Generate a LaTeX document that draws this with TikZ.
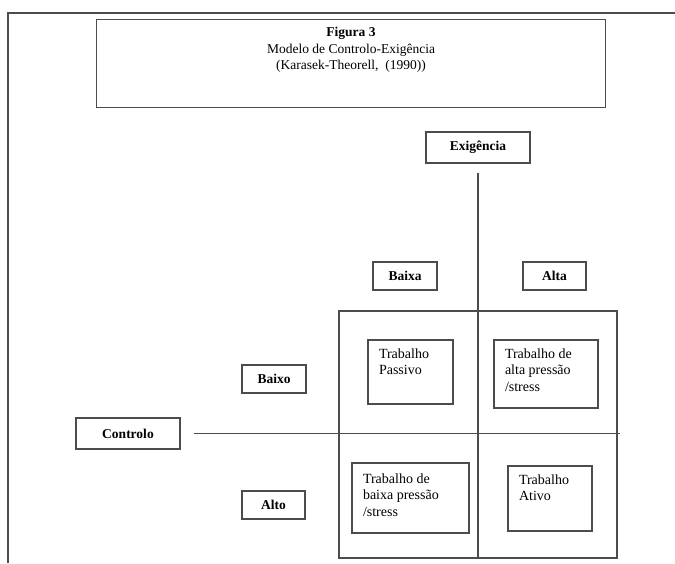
\documentclass[tikz,border=0pt]{standalone}
\usepackage{fontspec}
\setmainfont{Liberation Serif}
\usetikzlibrary{positioning}

\begin{document}
\begin{tikzpicture}[x=1pt, y=-1pt, line width=1.5pt,
    every node/.style={text=black},
    lbl/.style={draw=black!70, minimum width=64pt, minimum height=28pt, inner sep=0pt,
      font=\fontsize{13.5}{15}\selectfont\bfseries},
    cellbox/.style={draw=black!70, inner sep=0pt},
    celltxt/.style={anchor=north west, align=left, inner sep=0pt,
      font=\fontsize{14}{16.7}\selectfont}]
  \useasboundingbox (0,0) rectangle (675,563);
  \draw[black!70, line width=1.7pt] (8,563) -- (8,13.3) -- (675,13.3);

  % title
  \node[cellbox, minimum width=508.6pt, minimum height=88pt] (ttl) at (351,63.3) {};
  \node[align=center, inner sep=0pt, font=\fontsize{13.5}{16.7}\selectfont] (ttltxt) at (351,50)
    {\textbf{Figura 3}\\Modelo de Controlo-Exigência\\(Karasek-Theorell,~ (1990))};

  % axis labels
  \node[lbl, minimum width=104pt, minimum height=31pt] (exi) at (478,147.5) {Exigência};
  \node[lbl] (baixa) at (405,276) {Baixa};
  \node[lbl, minimum width=63pt] (alta) at (554.5,276) {Alta};
  \node[lbl] (baixo) at (274,379) {Baixo};
  \node[lbl, minimum width=104pt, minimum height=31pt] (ctl) at (128,433.5) {Controlo};
  \node[lbl, minimum width=63pt] (alto) at (273.5,505) {Alto};

  % quadrants
  \node[cellbox, minimum width=278pt, minimum height=247pt] (grid) at (478,434.5) {};
  \draw[black!70] ([yshift=-9pt]exi.south) -- (exi.south |- grid.south);
  \draw[black!70] ([xshift=13pt]ctl.east) -- ([xshift=2pt]grid.east |- ctl.east);

  \node[cellbox, minimum width=85pt, minimum height=64pt] (pas) at (410.5,372) {};
  \node[celltxt] (pastxt) at ([xshift=11pt,yshift=-8.5pt]pas.north west) {Trabalho\\Passivo};
  \node[cellbox, minimum width=104pt, minimum height=68pt] (altap) at (546,374) {};
  \node[celltxt] (altaptxt) at ([xshift=11pt,yshift=-8.5pt]altap.north west)
    {Trabalho de\\alta pressão\\/stress};
  \node[cellbox, minimum width=117pt, minimum height=70pt] (baixap) at (410.5,498) {};
  \node[celltxt] (baixaptxt) at ([xshift=11pt,yshift=-10.5pt]baixap.north west)
    {Trabalho de\\baixa pressão\\/stress};
  \node[cellbox, minimum width=84pt, minimum height=65pt] (ativo) at (550,498.5) {};
  \node[celltxt] (ativotxt) at ([xshift=11pt,yshift=-8.5pt]ativo.north west) {Trabalho\\Ativo};
\end{tikzpicture}
\end{document}
